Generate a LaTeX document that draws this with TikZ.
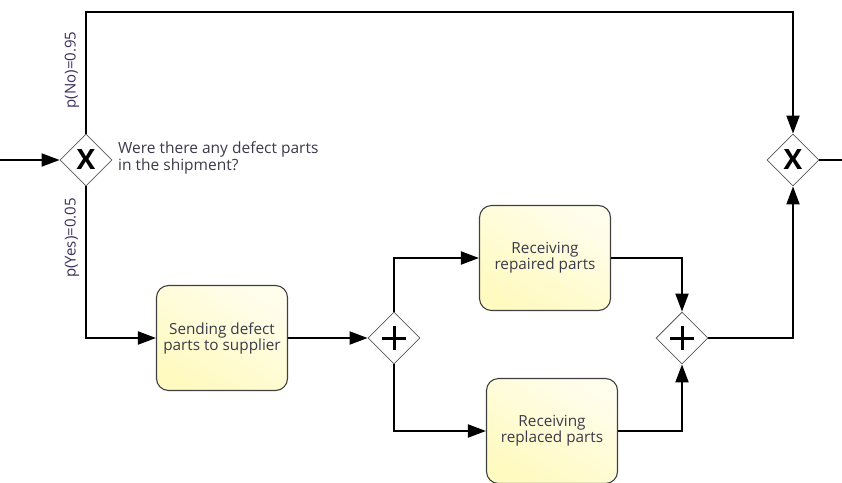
\documentclass[tikz,border=0pt]{standalone}
\usepackage{fontspec}
\setmainfont{Open Sans}
\usetikzlibrary{arrows.meta,shapes.geometric,calc}
\definecolor{txt}{HTML}{3A3A4A}
\definecolor{lbl}{HTML}{3B2E5C}
\definecolor{tfill}{HTML}{FFFAC0}
\tikzset{
  flow/.style={line width=2pt,-{Triangle[length=18pt,width=13pt]}},
  plainflow/.style={line width=2pt},
  task/.style={draw=black!75,line width=1.1pt,rounded corners=12pt,minimum width=131pt,minimum height=105pt,
    top color=white!70!tfill,bottom color=tfill,shading angle=-30,
    align=center,text=txt,font=\fontsize{15.3}{16}\selectfont,inner sep=2pt},
  gate/.style={diamond,draw=black!65,line width=0.8pt,fill=white,minimum width=52pt,minimum height=52pt,inner sep=0pt,aspect=1},
  xgate/.style={gate,font=\fontsize{28}{28}\selectfont\bfseries},
  prob/.style={rotate=90,text=lbl,font=\fontsize{15}{16}\selectfont,inner sep=0pt},
  note/.style={text=txt,font=\fontsize{15.5}{14.5}\selectfont,align=left,anchor=west,inner sep=0pt}
}
\begin{document}
\begin{tikzpicture}[x=1pt,y=-1pt]
\useasboundingbox (0,0) rectangle (842,482);
% nodes
\node[xgate] (g1) at (86,160) {X};
\node[xgate] (g2) at (793,160) {X};
\node[gate] (p1) at (394,338) {};
\node[gate] (p2) at (682,338) {};
\draw[line width=3pt] ($(p1)+(-12,0)$) -- ($(p1)+(12,0)$) ($(p1)+(0,-12)$) -- ($(p1)+(0,12)$);
\draw[line width=3pt] ($(p2)+(-12,0)$) -- ($(p2)+(12,0)$) ($(p2)+(0,-12)$) -- ($(p2)+(0,12)$);
\node[task] (t1) at (222,338) {Sending defect\\parts to supplier};
\node[task] (t2) at (545,258) {Receiving\\repaired parts};
\node[task] (t3) at (552,431) {Receiving\\replaced parts};
\coordinate (in) at (0,160);
\coordinate (out) at (842,160);
% labels
\node[prob] (lno) at (72,70) {p(No)=0.95};
\node[prob] (lyes) at (72,238) {p(Yes)=0.05};
\node[note] (q) at (118,158) {Were there any defect parts\\in the shipment?};
% flows
\draw[flow] (in) -- (g1.west);
\draw[flow] (g1.north) |- (86,12) -| (g2.north);
\draw[flow] (g1.south) |- (t1.west);
\draw[flow] (t1.east) -- (p1.west);
\draw[flow] (p1.north) |- (t2.west);
\draw[flow] (p1.south) |- (t3.west);
\draw[flow] (t2.east) -| (p2.north);
\draw[flow] (t3.east) -| (p2.south);
\draw[flow] (p2.east) -| (g2.south);
\draw[plainflow] (g2.east) -- (out);
\end{tikzpicture}
\end{document}
